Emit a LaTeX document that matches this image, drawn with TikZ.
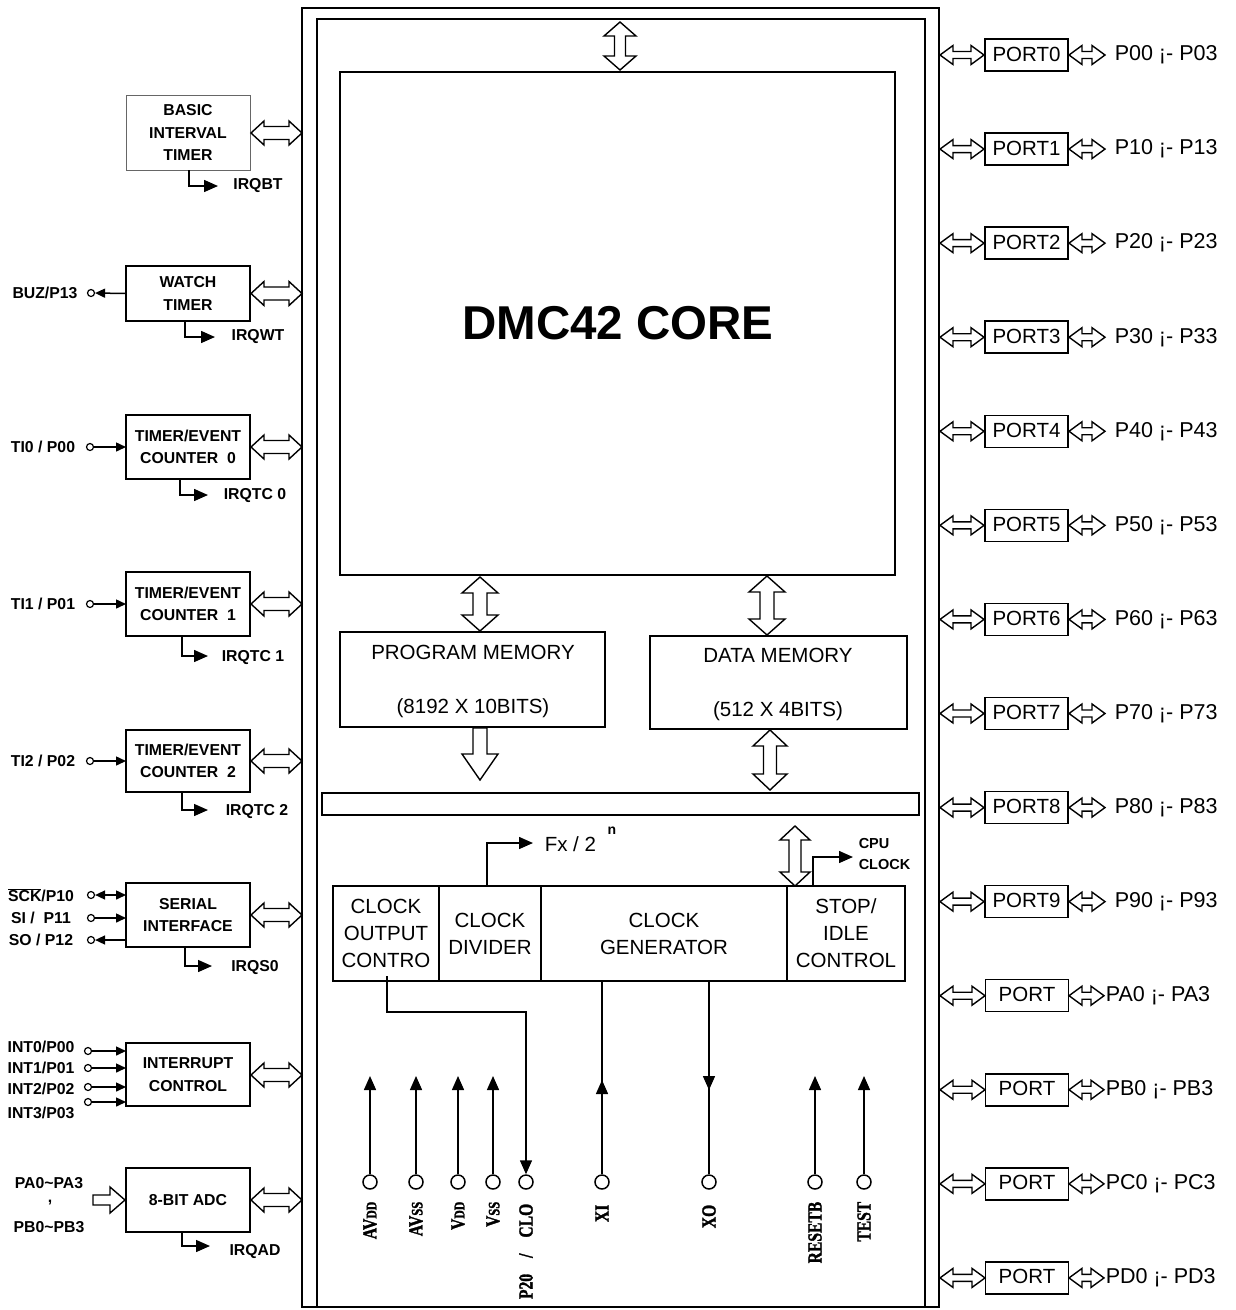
\documentclass[tikz,border=0pt]{standalone}
\usepackage{fontspec}
\setmainfont{Liberation Sans}
\newfontfamily\pinfont[FakeStretch=0.78,BoldFeatures={FakeStretch=0.78,FakeBold=1.5}]{Liberation Serif}
\usetikzlibrary{arrows.meta}
% hollow double arrow, horizontal: x1 x2 y shafthalf headhalf headlen
\newcommand\HDArr[6]{\draw[hol] (#1,#3) -- ({#1+#6},{#3-#5}) -- ({#1+#6},{#3-#4}) -- ({#2-#6},{#3-#4}) -- ({#2-#6},{#3-#5}) -- (#2,#3) -- ({#2-#6},{#3+#5}) -- ({#2-#6},{#3+#4}) -- ({#1+#6},{#3+#4}) -- ({#1+#6},{#3+#5}) -- cycle;}
% hollow double arrow, vertical: y1 y2 x shafthalf headhalf headlen
\newcommand\VDArr[6]{\draw[hol] (#3,#1) -- ({#3-#5},{#1+#6}) -- ({#3-#4},{#1+#6}) -- ({#3-#4},{#2-#6}) -- ({#3-#5},{#2-#6}) -- (#3,#2) -- ({#3+#5},{#2-#6}) -- ({#3+#4},{#2-#6}) -- ({#3+#4},{#1+#6}) -- ({#3+#5},{#1+#6}) -- cycle;}
% hollow single arrow, horizontal pointing to x2
\newcommand\HSArr[6]{\draw[hol] (#1,{#3-#4}) -- ({#2-#6},{#3-#4}) -- ({#2-#6},{#3-#5}) -- (#2,#3) -- ({#2-#6},{#3+#5}) -- ({#2-#6},{#3+#4}) -- (#1,{#3+#4}) -- cycle;}
% hollow single arrow, vertical pointing to y2
\newcommand\VSArr[6]{\draw[hol] ({#3-#4},#1) -- ({#3-#4},{#2-#6}) -- ({#3-#5},{#2-#6}) -- (#3,#2) -- ({#3+#5},{#2-#6}) -- ({#3+#4},{#2-#6}) -- ({#3+#4},#1) -- cycle;}
\begin{document}
\begin{tikzpicture}[x=1pt,y=-1pt,line width=1.5pt,
  hol/.style={draw,fill=white,line width=1.4pt,line join=miter},
  blk/.style={draw,line width=1.5pt,inner sep=0pt,outer sep=0pt,align=center,
    font=\bfseries\fontsize{15.8}{22.5}\selectfont},
  rbox/.style={draw,line width=1.5pt,inner sep=0pt,outer sep=0pt,align=center,
    font=\fontsize{20.5}{27}\selectfont},
  lbl/.style={font=\bfseries\fontsize{15.8}{18}\selectfont,inner sep=0pt},
  reg/.style={font=\fontsize{20.5}{24}\selectfont,inner sep=0pt},
  plbl/.style={font=\fontsize{21.5}{24}\selectfont,inner sep=0pt,anchor=west},
  tri/.style={-{Triangle[length=14pt,width=12pt]}},
  stri/.style={-{Triangle[length=10pt,width=9pt]}},
  pin/.style={circle,draw,fill=white,line width=1.5pt,minimum size=14pt,inner sep=0pt},
  spin/.style={circle,draw,fill=white,line width=1.2pt,minimum size=7pt,inner sep=0pt},
  pinlbl/.style={rotate=90,anchor=east,inner sep=0pt,font=\pinfont\bfseries\fontsize{20}{20}\selectfont}]
\useasboundingbox (0,0) rectangle (1235,1310);
\fill[white] (0,0) rectangle (1235,1310);

% frames
\draw[line width=2pt] (302,8) rectangle (939,1307);
\draw[line width=1.5pt] (317,1307) -- (317,19) -- (925,19) -- (925,1307);

% core and memories
\node[rbox,minimum width=555,minimum height=503] (core) at (617.5,323.5) {};
\node[font=\bfseries\fontsize{47.5}{47.5}\selectfont] (coretxt) at (618,323) {DMC42 CORE};
\VDArr{22}{70}{620}{5.5}{16}{14}
\node[rbox,minimum width=265,minimum height=95] (pm) at (472.5,679.5) {};
\node[reg] (pmt1) at (473,652) {PROGRAM MEMORY};
\node[reg] (pmt2) at (473,708) {(8192 X 10BITS)};
\node[rbox,minimum width=257,minimum height=93] (dm) at (778.5,682.5) {};
\node[reg] (dmt1) at (778,655) {DATA MEMORY};
\node[reg] (dmt2) at (778,711) {(512 X 4BITS)};
\VDArr{577}{631}{480}{7}{18}{16}
\VDArr{576}{635}{767}{7}{18}{16}
\VSArr{728}{780}{480}{7}{18}{26}
\VDArr{730}{790}{770}{6.5}{17}{16}
\node[rbox,minimum width=597,minimum height=22] (bus) at (620.5,804) {};

% clock block
\node[rbox,minimum width=106,minimum height=95] (cout) at (386,933.5) {CLOCK\\OUTPUT\\CONTRO};
\node[rbox,minimum width=102,minimum height=95] (cdiv) at (490,933.5) {CLOCK\\DIVIDER};
\node[rbox,minimum width=246,minimum height=95] (cgen) at (664,933.5) {CLOCK\\GENERATOR};
\node[rbox,minimum width=118,minimum height=95] (stop) at (846,933.5) {STOP/\\IDLE\\CONTROL};
\coordinate (fxend) at (533,843);
\draw[tri] (487,886) -- (487,843) -- (fxend);
\node[reg,anchor=west] (fx) at (544,844) {Fx / 2};
\node[font=\bfseries\fontsize{14}{14}\selectfont,inner sep=0pt] (fxn) at (612,831) {n};
\VDArr{826}{886}{795}{6}{15}{14}
\coordinate (cpuend) at (853,857);
\draw[tri] (813,886) -- (813,857) -- (cpuend);
\node[lbl,anchor=west,align=left,font=\bfseries\fontsize{14.5}{21}\selectfont] (cpu) at (858,854) {CPU\\CLOCK};

% bottom pins
\foreach \nm/\x/\txt in {avdd/370/{AV{\fontsize{15}{15}\selectfont DD}},avss/416/{AV{\fontsize{16}{16}\selectfont SS}},vdd/458/{V{\fontsize{15}{15}\selectfont DD}},vss/493/{V{\fontsize{16}{16}\selectfont SS}},resetb/815/RESETB,test/864/TEST}{
  \node[pin] (\nm) at (\x,1182) {};
  \coordinate (\nm top) at (\x,1076);
  \draw[tri] (\nm.north) -- (\nm top);
  \node[pinlbl] (\nm lbl) at (\x,1201) {\txt};
}
\node[pin] (clo) at (526,1182) {};
\node[pinlbl] (clolbl) at (526,1203) {P20\hspace{0.8em}/\hspace{0.8em}CLO};
\draw[tri] (387,976) -- (387,1012) -- (526,1012) -- (clo.north);
\node[pin] (xi) at (602,1182) {};
\node[pinlbl] (xilbl) at (602,1204) {XI};
\draw (cgen.south -| xi) -- (xi.north);
\draw[tri] (xi.north) -- (602,1080);
\node[pin] (xo) at (709,1182) {};
\node[pinlbl] (xolbl) at (709,1204) {XO};
\draw[tri] (cgen.south -| xo) -- (709,1090);
\draw (709,1088) -- (xo.north);

% left blocks
\node[blk,draw=black!60,line width=1pt,minimum width=124,minimum height=75] (bit) at (188,132.5) {BASIC\\INTERVAL\\TIMER};
\node[blk,minimum width=124,minimum height=55] (wt) at (188,293.5) {WATCH\\TIMER};
\node[blk,minimum width=124,minimum height=64] (tc0) at (188,447) {TIMER/EVENT\\COUNTER\ \ 0};
\node[blk,minimum width=124,minimum height=64] (tc1) at (188,604) {TIMER/EVENT\\COUNTER\ \ 1};
\node[blk,minimum width=124,minimum height=62] (tc2) at (188,761) {TIMER/EVENT\\COUNTER\ \ 2};
\node[blk,minimum width=124,minimum height=64] (si) at (188,915) {SERIAL\\INTERFACE};
\node[blk,minimum width=124,minimum height=63] (ic) at (188,1074.5) {INTERRUPT\\CONTROL};
\node[blk,minimum width=124,minimum height=64] (adc) at (188,1200) {8-BIT ADC};
\foreach \b/\yy in {bit/133,wt/293.5,tc0/447,tc1/604,tc2/761,si/915,ic/1075,adc/1200}{
  \HDArr{251}{302}{\yy}{6.5}{12}{13}
}
% IRQ outputs
\foreach \b/\x/\yb/\yt/\xe/\lx/\ly/\t in {bit/189/170/186/218/258/186/IRQBT,wt/185/321/337/215/258/337/IRQWT,tc0/180/479/495/208/255/496/IRQTC 0,tc1/182/636/656/208/253/658/IRQTC 1,tc2/182/792/810/208/257/812/IRQTC 2,si/185/947/966/212/255/968/IRQS0,adc/182/1232/1246/210/255/1252/IRQAD}{
  \coordinate (\b irq) at (\xe,\yt);
  \draw[tri] (\x,\yb) -- (\x,\yt) -- (\b irq);
  \node[lbl] (\b irqlbl) at (\lx,\ly) {\t};
}
% left pins
\node[lbl] (buzl) at (45,293) {BUZ/P13};
\node[spin] (buz) at (91,293) {};
\draw[stri] (wt.west) -- (buz.east);
\foreach \n/\yy/\t in {ti0/447/{TI0 / P00},ti1/604/{TI1 / P01},ti2/761/{TI2 / P02}}{
  \node[lbl] (\n l) at (43,\yy) {\t};
  \node[spin] (\n) at (90,\yy) {};
  \draw[stri] (\n.east) -- (\n.east -| tc0.west);
}
\node[lbl] (sckl) at (41,895) {$\overline{\hbox{SCK}}$/P10};
\node[spin] (sck) at (91,895) {};
\draw[{Triangle[length=10pt,width=9pt]}-{Triangle[length=10pt,width=9pt]}] (sck.east) -- (sck.east -| si.west);
\node[lbl] (sil) at (41,918) {SI /\ \ P11};
\node[spin] (sip) at (91,918) {};
\draw[stri] (sip.east) -- (sip.east -| si.west);
\node[lbl] (sol) at (41,940) {SO / P12};
\node[spin] (so) at (91,940) {};
\draw[stri] (so.east -| si.west) -- (so.east);
\foreach \n/\yl/\yc/\t in {i0/1047/1051/{INT0/P00},i1/1068/1068/{INT1/P01},i2/1089/1087/{INT2/P02},i3/1113/1102/{INT3/P03}}{
  \node[lbl] (\n l) at (41,\yl) {\t};
  \node[spin] (\n) at (88,\yc) {};
  \draw[stri] (\n.east) -- (\n.east -| ic.west);
}
\node[lbl] (pal) at (49,1183) {PA0\textasciitilde PA3};
\node[lbl] (comma) at (50,1203) {,};
\node[lbl] (pbl) at (49,1227) {PB0\textasciitilde PB3};
\HSArr{93}{125}{1200}{5}{13}{15}

% right ports
\foreach \i/\nm/\lab in {0/PORT0/P00 ¡- P03,1/PORT1/P10 ¡- P13,2/PORT2/P20 ¡- P23,3/PORT3/P30 ¡- P33,4/PORT4/P40 ¡- P43,5/PORT5/P50 ¡- P53,6/PORT6/P60 ¡- P63,7/PORT7/P70 ¡- P73,8/PORT8/P80 ¡- P83,9/PORT9/P90 ¡- P93}{
  \pgfmathsetmacro\yy{55+94.07*\i}
  \HDArr{940}{984}{\yy}{3.5}{9.5}{13}
  \node[rbox,minimum width=83,minimum height=32] (port\i) at (1026.5,\yy) {\raisebox{2pt}{\nm}};
  \HDArr{1069}{1105}{\yy}{3.5}{9.5}{13}
  \node[plbl] (plab\i) at (1114,\yy) {\lab};
}
\foreach \i/\lab in {10/PA0 ¡- PA3,11/PB0 ¡- PB3,12/PC0 ¡- PC3,13/PD0 ¡- PD3}{
  \pgfmathsetmacro\yy{55+94.07*\i}
  \HDArr{940}{985}{\yy}{3.5}{9.5}{13}
  \node[rbox,minimum width=83,minimum height=32] (port\i) at (1027,\yy) {\raisebox{3pt}{PORT}};
  \HDArr{1069}{1104}{\yy}{3.5}{9.5}{13}
  \node[plbl] (plab\i) at (1105,\yy) {\lab};
}
\end{tikzpicture}
\end{document}
